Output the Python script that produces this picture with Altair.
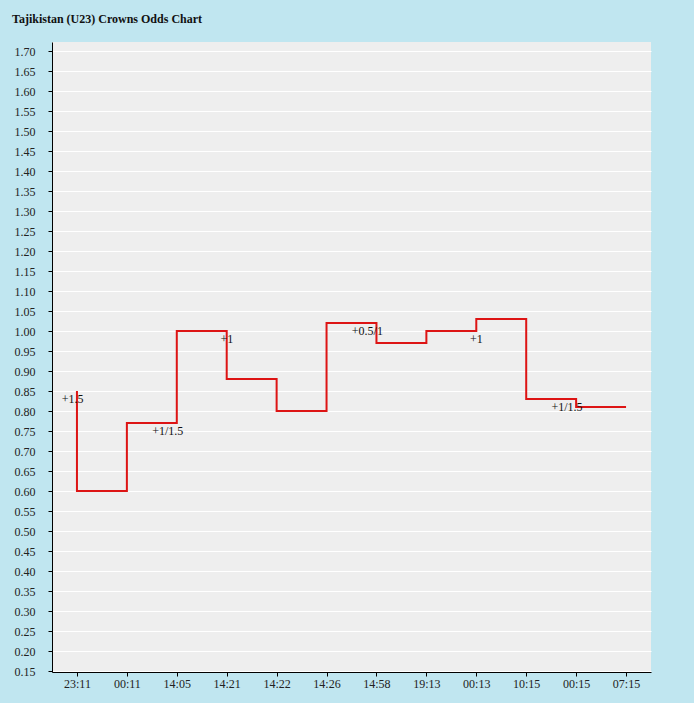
import altair as alt
import pandas as pd

times = ["23:11", "00:11", "14:05", "14:21", "14:22", "14:26",
         "14:58", "19:13", "00:13", "10:15", "00:15", "07:15"]
odds = [0.85, 0.60, 0.77, 1.00, 0.88, 0.80, 1.02, 0.97, 1.00, 1.03, 0.83, 0.81]
handicaps = ["+1.5", "", "+1/1.5", "+1", "", "", "+0.5/1", "", "+1", "", "+1/1.5", ""]
y_ticks = [round(0.15 + 0.05 * i, 2) for i in range(32)]

df = pd.DataFrame({"time": times, "odds": odds, "label": handicaps})

FONT = "Liberation Serif"

x_enc = alt.X("time:O", sort=times, title=None,
              scale=alt.Scale(type="point", padding=0.5),
              axis=alt.Axis(labelAngle=0, grid=False, domainColor="#000",
                            tickColor="#000", tickSize=4, labelPadding=2,
                            labelOverlap=False,
                            labelFont=FONT, labelFontSize=12, labelColor="#222"))
y_enc = alt.Y("odds:Q", title=None,
              scale=alt.Scale(domain=[0.1475, 1.7225], nice=False, zero=False),
              axis=alt.Axis(values=y_ticks, format=".2f", grid=True,
                            gridColor="#ffffff", gridWidth=1,
                            domainColor="#000", tickColor="#000", tickSize=4,
                            labelPadding=13, labelFont=FONT, labelFontSize=12,
                            labelColor="#222", labelFlush=False,
                            labelOverlap=False))

line = alt.Chart(df).mark_line(interpolate="step-before", color="#dd1414",
                               strokeWidth=2).encode(x=x_enc, y=y_enc)

labels = alt.Chart(df).transform_filter("datum.label != ''").mark_text(
    align="right", baseline="alphabetic", dx=6.5, dy=12,
    font=FONT, fontSize=12, color="#111").encode(
    x=x_enc, y=y_enc, text="label:N")

chart = (line + labels).properties(
    width=599, height=630,
    autosize=alt.AutoSizeParams(type="none"),
    padding={"left": 52, "top": 42, "right": 43, "bottom": 31},
    background="#c0e6f0",
    title=alt.TitleParams("Tajikistan (U23) Crowns Odds Chart", anchor="start",
                          frame="group", font=FONT, fontSize=12,
                          fontWeight="bold", color="#111", dx=-40, offset=16),
).configure_view(fill="#eeeeee", stroke=None).configure_axis(labelOverlap=False)

chart.save("out.html", embed_options={"renderer": "svg", "actions": False})
